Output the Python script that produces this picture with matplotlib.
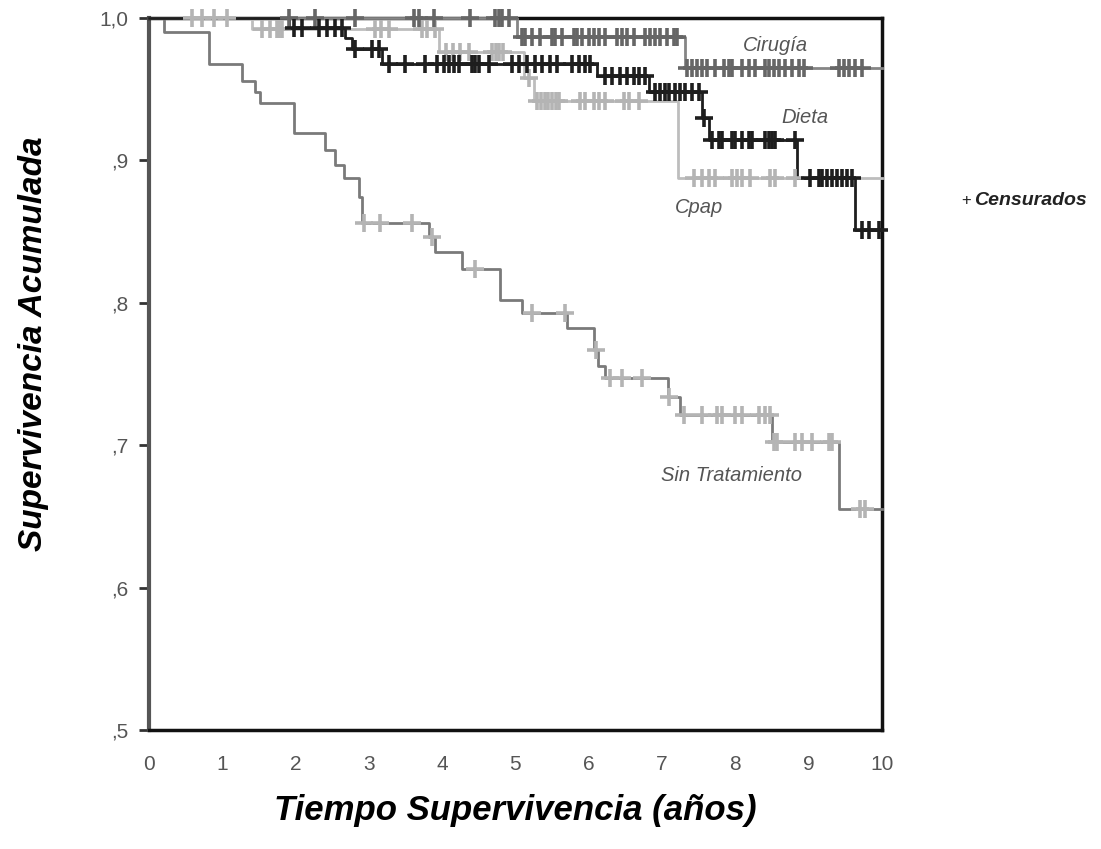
import numpy as np
import matplotlib
matplotlib.use("Agg")
import matplotlib.pyplot as plt

plt.rcParams['font.family'] = ['Liberation Sans', 'DejaVu Sans']

# step curves: event times and survival after each event
sin_t = [0, 0.20, 0.82, 1.27, 1.45, 1.52, 1.98, 2.40, 2.54, 2.66, 2.86, 2.90, 3.82, 3.90,
         4.27, 4.79, 5.09, 5.70, 6.07, 6.12, 6.22, 7.08, 7.24, 8.50, 9.41]
sin_s = [1.0, 0.99, 0.968, 0.956, 0.948, 0.94, 0.919, 0.907, 0.897, 0.888, 0.874, 0.856, 0.846, 0.836,
         0.824, 0.802, 0.793, 0.782, 0.767, 0.756, 0.747, 0.734, 0.721, 0.702, 0.655]
sin_c = [2.93, 3.15, 3.59, 3.86, 4.45, 5.22, 5.67, 6.10, 6.29, 6.45, 6.73, 7.10, 7.30, 7.54, 7.75,
         7.82, 7.99, 8.09, 8.32, 8.40, 8.47, 8.53, 8.57, 8.81, 8.91, 9.05, 9.28, 9.32, 9.70, 9.77]

cir_t = [0, 5.02, 7.31]
cir_s = [1.0, 0.987, 0.965]
cir_c = [1.91, 2.27, 2.81, 3.62, 3.68, 3.89, 4.38, 4.72, 4.77, 4.82, 4.91,
         5.09, 5.13, 5.23, 5.33, 5.50, 5.54, 5.63, 5.80, 5.84, 5.91, 6.00, 6.07, 6.14, 6.22,
         6.38, 6.45, 6.52, 6.62, 6.77, 6.83, 6.90, 6.97, 7.07, 7.16, 7.20,
         7.34, 7.41, 7.48, 7.54, 7.61, 7.72, 7.84, 7.91, 7.95, 8.09, 8.19, 8.27, 8.40, 8.46,
         8.53, 8.59, 8.68, 8.77, 8.87, 8.94, 9.41, 9.48, 9.55, 9.63, 9.73]

die_t = [0, 1.91, 2.67, 2.77, 3.18, 6.11, 6.82, 7.54, 7.64, 8.84, 9.63]
die_s = [1.0, 0.993, 0.986, 0.978, 0.968, 0.959, 0.948, 0.93, 0.914, 0.888, 0.851]
die_c = [1.98, 2.09, 2.32, 2.43, 2.54, 2.63, 2.81, 3.04, 3.14, 3.27, 3.49, 3.77, 3.93, 4.02,
         4.09, 4.16, 4.23, 4.41, 4.45, 4.50, 4.64, 4.95, 5.05, 5.16, 5.27, 5.36, 5.47, 5.57,
         5.77, 5.87, 5.95, 6.02, 6.22, 6.32, 6.43, 6.52, 6.62, 6.68, 6.77, 6.90, 6.97, 7.04,
         7.10, 7.18, 7.24, 7.31, 7.41, 7.50, 7.57, 7.68, 7.78, 7.82, 7.95, 7.99, 8.09, 8.19,
         8.23, 8.40, 8.46, 8.50, 8.54, 8.81, 9.02, 9.14, 9.18, 9.25, 9.32, 9.39, 9.45, 9.52,
         9.59, 9.73, 9.82, 9.96]

cpap_t = [0, 1.41, 3.96, 5.12, 5.25, 7.22]
cpap_s = [1.0, 0.992, 0.976, 0.958, 0.942, 0.888]
cpap_c = [0.59, 0.72, 0.89, 1.06, 1.54, 1.65, 1.75, 1.78, 1.81, 3.08, 3.17, 3.27, 3.72, 3.80,
          3.90, 4.05, 4.15, 4.25, 4.36, 4.68, 4.73, 4.78, 4.83, 5.18, 5.30, 5.35, 5.40, 5.45,
          5.50, 5.55, 5.60, 5.88, 5.95, 6.07, 6.14, 6.22, 6.48, 6.55, 6.68, 7.43, 7.54, 7.64,
          7.72, 7.95, 8.02, 8.09, 8.20, 8.47, 8.54, 8.81]

x_ticks = [0, 1, 2, 3, 4, 5, 6, 7, 8, 9, 10]
y_ticks = [0.5, 0.6, 0.7, 0.8, 0.9, 1.0]
y_labels = [",5", ",6", ",7", ",8", ",9", "1,0"]


def km_at(times, surv, x):
    idx = np.searchsorted(times, x, side='right') - 1
    return np.array(surv)[idx]


fig = plt.figure(figsize=(11.01, 8.49), dpi=100)
ax = fig.add_axes([0.1353, 0.1400, 0.6657, 0.8388])

curves = [
    (sin_t, sin_s, sin_c, '#7a7a7a', '#b4b4b4'),
    (cpap_t, cpap_s, cpap_c, '#bdbdbd', '#b4b4b4'),
    (cir_t, cir_s, cir_c, '#858585', '#666666'),
    (die_t, die_s, die_c, '#1e1e1e', '#1e1e1e'),
]
for t, s, c, lc, mc in curves:
    tt = list(t) + [10]
    ss = list(s) + [s[-1]]
    ax.step(tt, ss, where='post', color=lc, lw=2.0, clip_on=False, zorder=3)
    ax.plot(c, km_at(t, s, c), ls='none', marker='+', ms=13, mew=2.6,
            color=mc, clip_on=False, zorder=4)

ax.set_xlim(0, 10)
ax.set_ylim(0.5, 1.0)
ax.set_xticks(x_ticks)
ax.set_yticks(y_ticks)
ax.set_yticklabels(y_labels)
ax.tick_params(axis='x', length=0, pad=18, labelsize=15, labelcolor='#555555')
ax.tick_params(axis='y', length=7, width=2, pad=8, labelsize=15, labelcolor='#555555',
               color='#333333')
for side in ['top', 'right', 'bottom']:
    ax.spines[side].set_color('#111111')
    ax.spines[side].set_linewidth(2.5)
ax.spines['left'].set_color('#555555')
ax.spines['left'].set_linewidth(3)

ax.set_xlabel('Tiempo Supervivencia (años)', fontsize=25, fontweight='bold',
              fontstyle='italic', labelpad=14)
ax.set_ylabel('Supervivencia Acumulada', fontsize=24, fontweight='bold',
              fontstyle='italic')
ax.yaxis.set_label_coords(-0.137, 0.543)

lab = dict(fontsize=14.5, fontstyle='italic', color='#555555', ha='center', va='center')
ax.text(8.55, 0.981, 'Cirugía', **lab)
ax.text(8.95, 0.930, 'Dieta', **lab)
ax.text(7.5, 0.867, 'Cpap', **lab)
ax.text(7.95, 0.679, 'Sin Tratamiento', **lab)

fig.text(0.874, 0.764, '+ ', fontsize=12, color='#222222', ha='left', va='center')
fig.text(0.885, 0.764, 'Censurados', fontsize=14, fontweight='bold', fontstyle='italic',
         color='#222222', ha='left', va='center')

fig.savefig('out.png', dpi=100)
